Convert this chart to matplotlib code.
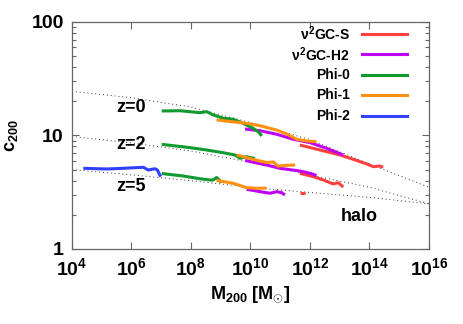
import numpy as np
import matplotlib.pyplot as plt

plt.rcParams['font.family'] = ['Liberation Sans', 'DejaVu Sans']
plt.rcParams['font.weight'] = 'bold'
plt.rcParams['mathtext.fontset'] = 'custom'
plt.rcParams['mathtext.rm'] = 'Liberation Sans:bold'
plt.rcParams['mathtext.bf'] = 'Liberation Sans:bold'
plt.rcParams['mathtext.it'] = 'Liberation Sans:bold'

# model c-M relations (dotted), log10 M nodes
model_logm = [4, 6, 8, 10, 12, 14, 16]
model_z0 = [24.5, 21.5, 17.8, 13.0, 9.2, 5.6, 3.5]
model_z2 = [9.8, 8.6, 7.3, 5.8, 4.5, 3.5, 2.5]
model_z5 = [5.0, 4.5, 4.0, 3.5, 3.15, 2.85, 2.5]

# simulation results: (log10 M, log10 c)
s_z0 = ([11.66, 12.34, 13.01, 13.46, 13.91, 14.13, 14.35, 14.46],
        [0.916, 0.872, 0.828, 0.790, 0.749, 0.725, 0.731, 0.720])
s_z2 = ([11.66, 12.11, 12.45, 12.78, 12.95, 13.12],
        [0.667, 0.637, 0.608, 0.573, 0.584, 0.546])
s_z5 = ([11.66, 11.83], [0.496, 0.496])

h2_z0 = ([9.82, 10.32, 10.88, 11.44, 12.00, 12.56, 13.12],
         [1.057, 1.042, 1.011, 0.967, 0.937, 0.887, 0.828])
h2_z2 = ([9.82, 10.54, 10.99, 11.66, 12.00, 12.22],
         [0.780, 0.740, 0.711, 0.687, 0.667, 0.648])
h2_z5 = ([9.87, 10.32, 10.66, 10.88, 11.05, 11.16],
         [0.526, 0.505, 0.491, 0.505, 0.496, 0.476])

p0_z0 = ([7.015, 7.63, 8.30, 8.53, 8.75, 9.09, 9.42, 9.76, 10.09, 10.26, 10.38],
         [1.216, 1.218, 1.201, 1.210, 1.181, 1.152, 1.143, 1.107, 1.063, 1.033, 0.996])
p0_z2 = ([7.015, 7.97, 8.53, 9.09, 9.48, 9.65, 9.87, 10.15],
         [0.922, 0.893, 0.872, 0.848, 0.828, 0.799, 0.813, 0.797])
p0_z5 = ([7.015, 7.74, 8.30, 8.64, 8.75, 8.86, 9.03],
         [0.665, 0.643, 0.619, 0.608, 0.608, 0.630, 0.586])

p1_z0 = ([8.86, 9.87, 10.32, 10.88, 11.22, 11.55, 11.89, 12.22],
         [1.137, 1.107, 1.086, 1.048, 1.013, 0.967, 0.952, 0.945])
p1_z2 = ([9.54, 10.09, 10.54, 10.77, 10.92, 11.22, 11.50],
         [0.828, 0.790, 0.762, 0.767, 0.731, 0.737, 0.740])
p1_z5 = ([8.86, 9.42, 9.87, 10.21, 10.54],
         [0.604, 0.579, 0.540, 0.535, 0.537])

p2_z5 = ([4.38, 5.17, 5.72, 6.40, 6.56, 6.79, 6.87, 6.98],
         [0.711, 0.705, 0.711, 0.720, 0.696, 0.707, 0.696, 0.637])

names = [r'$\nu^2$GC-S', r'$\nu^2$GC-H2', 'Phi-0', 'Phi-1', 'Phi-2']
colors = ['#ff4040', '#c000f0', '#109a30', '#ff9010', '#3040ff']
runs = [[s_z0, s_z2, s_z5], [h2_z0, h2_z2, h2_z5], [p0_z0, p0_z2, p0_z5],
        [p1_z0, p1_z2, p1_z5], [p2_z5]]

fig = plt.figure(figsize=(4.63, 3.24), dpi=100)
ax = fig.add_axes([0.1555, 0.2315, 0.771, 0.7006])

mm = 10.0 ** np.array(model_logm)
for cz in [model_z0, model_z2, model_z5]:
    ax.plot(mm, cz, color='#333333', lw=0.7, ls=(0, (1, 3)))

for col, segs in zip(colors, runs):
    for lm, lc in segs:
        ax.plot(10.0 ** np.array(lm), 10.0 ** np.array(lc), color=col, lw=2.2,
                solid_capstyle='butt')

# legend drawn by hand: labels right-aligned, samples on the right
rows = [0.948, 0.858, 0.767, 0.678, 0.588]
for name, col, yy in zip(names, colors, rows):
    ax.text(0.779, yy, name, transform=ax.transAxes, ha='right', va='center',
            fontsize=10, fontweight='bold')
    ax.plot([0.811, 0.938], [yy, yy], transform=ax.transAxes, color=col, lw=2.2)

ax.text(1e6, 17.8, 'z=0', ha='center', va='center', fontsize=13, fontweight='bold')
ax.text(1e6, 8.25, 'z=2', ha='center', va='center', fontsize=13, fontweight='bold')
ax.text(1e6, 3.52, 'z=5', ha='center', va='center', fontsize=13, fontweight='bold')
ax.text(4.5e13, 1.95, 'halo', ha='center', va='center', fontsize=13, fontweight='bold')

ax.set_xscale('log')
ax.set_yscale('log')
ax.set_xlim(1e4, 1e16)
ax.set_ylim(1, 100)
xt = [4, 6, 8, 10, 12, 14, 16]
ax.set_xticks([10.0 ** k for k in xt])
ax.set_xticklabels([r'$10^{%d}$' % k for k in xt])
ax.xaxis.set_minor_locator(plt.NullLocator())
ax.set_yticks([1, 10, 100])
ax.set_yticklabels(['1', '10', '100'])
ax.tick_params(which='both', direction='in', top=True, right=True, color='#666666')
ax.tick_params(which='major', length=5, width=0.8, labelsize=14, pad=6)
ax.tick_params(which='minor', length=3, width=0.8)
for sp in ax.spines.values():
    sp.set_color('#666666')
    sp.set_linewidth(0.9)

ax.set_xlabel(r'M$_{200}$ [M$_{\odot}$]', fontsize=13, fontweight='bold', labelpad=4)
ax.set_ylabel(r'c$_{200}$', fontsize=13, fontweight='bold', labelpad=8)

fig.savefig('out.png', dpi=100)
